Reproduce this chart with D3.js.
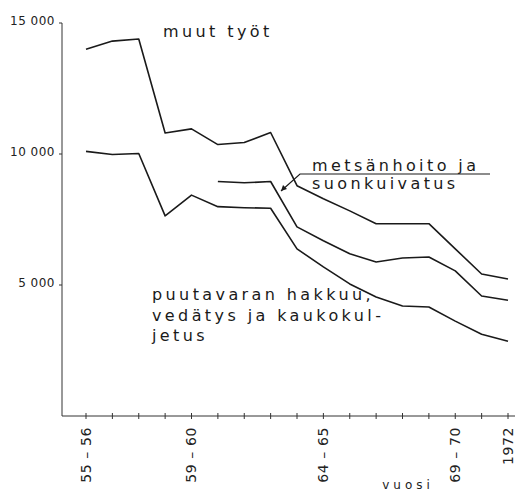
<!DOCTYPE html>
<html>
<head>
<meta charset="utf-8">
<title>Metsätyöt vuosittain</title>
<script src="https://d3js.org/d3.v7.min.js"></script>
<style>
  body { margin:0; background:#fff; }
  svg { display:block; font-family:"DejaVu Sans", sans-serif; }
</style>
</head>
<body>
<svg id="chart" width="515" height="491"></svg>
<script>
// hakkuuvuodet 1955/56 ... 1971/72
const periods = ["1955–56","1956–57","1957–58","1958–59","1959–60","1960–61","1961–62","1962–63",
                 "1963–64","1964–65","1965–66","1966–67","1967–68","1968–69","1969–70","1970–71","1971–72"];
const tickLabels = {"1955–56":"55 – 56","1959–60":"59 – 60","1964–65":"64 – 65","1969–70":"69 – 70","1971–72":"1972"};
const yTicks = [5000, 10000, 15000];

// kumulatiiviset käyrät (ylin = kaikki työt)
const muutTyot   = [14000,14310,14390,10800,10960,10360,10440,10820,8790,8290,7830,7340,7340,7340,6380,5420,5230];
const metsanhoito = [null,null,null,null,null,8950,8900,8950,7220,6690,6190,5880,6030,6070,5540,4580,4420];
const puutavara  = [10100,9980,10020,7640,8430,7990,7950,7930,6380,5690,5040,4540,4200,4160,3620,3120,2850];

const svg = d3.select("#chart");

const x = d3.scalePoint().domain(periods).range([86, 508]);
const y = d3.scaleLinear().domain([0, 15000]).range([416, 23]);

// axes
const ax = svg.append("g").attr("stroke", "#333").attr("stroke-width", 1);
ax.append("line").attr("x1", 62).attr("x2", 62).attr("y1", y(15000)).attr("y2", 416);
ax.append("line").attr("x1", 62).attr("x2", 515).attr("y1", 416).attr("y2", 416);

ax.selectAll("line.yt").data(yTicks).join("line")
    .attr("class", "yt")
    .attr("x1", 59).attr("x2", 62)
    .attr("y1", d => y(d)).attr("y2", d => y(d));

ax.selectAll("line.xt").data(periods).join("line")
    .attr("class", "xt")
    .attr("x1", d => x(d)).attr("x2", d => x(d))
    .attr("y1", 413).attr("y2", 419);

svg.selectAll("text.ylab").data(yTicks).join("text")
    .attr("class", "ylab")
    .attr("x", 55)
    .attr("y", d => y(d) + 2)
    .attr("text-anchor", "end")
    .attr("font-size", 12)
    .attr("letter-spacing", 0.5)
    .attr("fill", "#222")
    .text(d => d3.format(",")(d).replace(",", " "));

svg.selectAll("text.xlab").data(periods.filter(p => tickLabels[p])).join("text")
    .attr("class", "xlab")
    .attr("transform", d => `translate(${x(d)},427) rotate(-90)`)
    .attr("text-anchor", "end")
    .attr("dy", "0.35em")
    .attr("font-size", 14)
    .attr("letter-spacing", 0.6)
    .attr("fill", "#222")
    .text(d => tickLabels[d]);

svg.append("text")
    .attr("x", 408).attr("y", 489)
    .attr("text-anchor", "middle")
    .attr("font-size", 12)
    .attr("letter-spacing", 4)
    .attr("fill", "#222")
    .text("vuosi");

// lines
const line = d3.line()
    .defined(d => d != null)
    .x((d, i) => x(periods[i]))
    .y(d => y(d));

[muutTyot, metsanhoito, puutavara].forEach(s => {
  svg.append("path")
      .datum(s)
      .attr("fill", "none")
      .attr("stroke", "#1a1a1a")
      .attr("stroke-width", 1.6)
      .attr("stroke-linejoin", "round")
      .attr("d", line);
});

// labels
const lab = svg.append("g").attr("fill", "#1a1a1a").attr("font-size", 16).attr("letter-spacing", 3.4);
lab.append("text").attr("x", 163).attr("y", 37).text("muut työt");
lab.append("text").attr("x", 312).attr("y", 171).text("metsänhoito ja");
lab.append("text").attr("x", 312).attr("y", 189).text("suonkuivatus");
["puutavaran hakkuu,", "vedätys ja kaukokul-", "jetus"].forEach((t, i) => {
  lab.append("text").attr("x", 152).attr("y", 300 + i * 20.5).text(t);
});

// leader with arrow
svg.append("path")
    .attr("d", "M490,174 L300,174 L281,191")
    .attr("fill", "none")
    .attr("stroke", "#1a1a1a")
    .attr("stroke-width", 1.2);
svg.append("path")
    .attr("d", "M281,191 L283,185 L287,189 Z")
    .attr("fill", "#1a1a1a");
</script>
</body>
</html>
